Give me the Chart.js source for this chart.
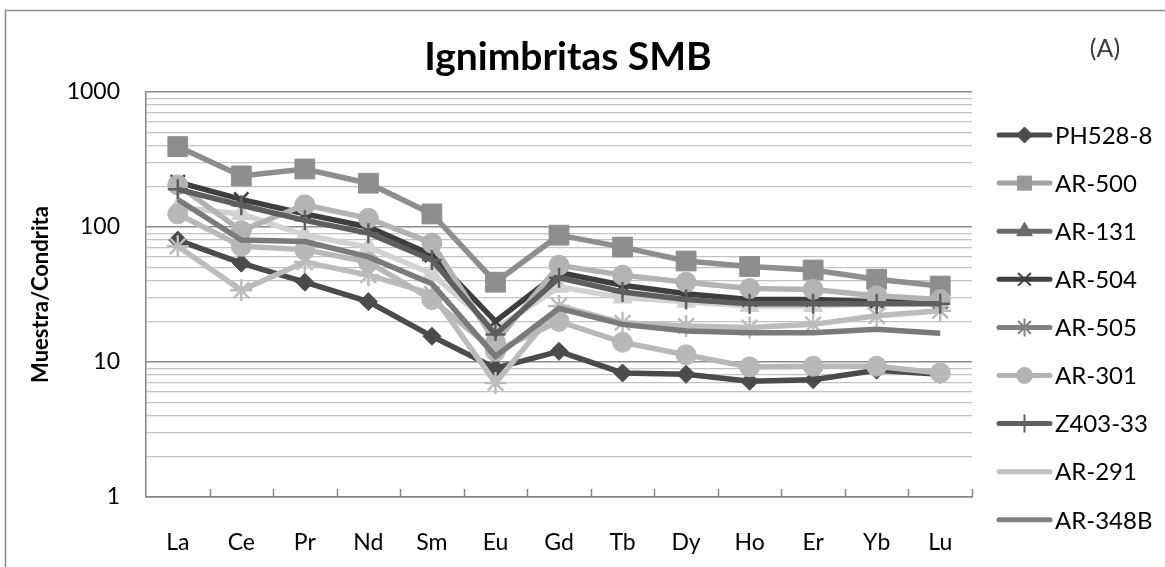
<!DOCTYPE html>
<html>
<head>
<meta charset="utf-8">
<script src="https://cdn.jsdelivr.net/npm/chart.js@4/dist/chart.umd.min.js"></script>
<style>
  html, body { margin: 0; padding: 0; background: #ffffff; }
  #wrap { width: 1165px; height: 567px; }
</style>
</head>
<body>
<div id="wrap"><canvas id="chart" width="1165" height="567"></canvas></div>
<script>
// REE elements (x categories) and log axis labels
var elements = ['La', 'Ce', 'Pr', 'Nd', 'Sm', 'Eu', 'Gd', 'Tb', 'Dy', 'Ho', 'Er', 'Yb', 'Lu'];
var yTickLabels = [1, 10, 100, 1000];

// Chondrite-normalised values per sample
var ph528_8 = [80, 54, 39, 28, 15.5, 9, 12, 8.3, 8.1, 7.2, 7.4, 8.7, 8.1];
var ar500   = [394, 239, 269, 211, 125, 39, 87, 71, 56, 51, 48, 41, 36.5];
var ar131   = [140, 125, 87, 71, 45, 17.5, 36, 30, 28, 26, 26, 27, 28];
var ar504   = [215, 160, 125, 100, 62, 20, 46, 37, 32, 29, 29, 28, 28];
var ar505   = [72, 34, 55, 44, 32, 7, 26, 19.5, 18.5, 18, 19, 22, 24];
var ar301   = [205, 94, 146, 116, 76, 14, 52, 44, 39, 35, 34.5, 31, 29];
var z403_33 = [190, 145, 112, 90, 57, 16, 42, 33, 29, 27, 27, 27, 27];
var ar291   = [125, 72, 68, 55, 29, 12, 20, 14, 11.3, 9.2, 9.3, 9.3, 8.3];
var ar348b  = [160, 80, 78, 60, 38, 11, 25, 19, 17, 16.5, 16.5, 17.5, 16.3];

var FONT = 'Lato, "Open Sans", sans-serif';

// line colour / marker in the plot, and the swatch used in the legend
var series = [
    { label: 'PH528-8', data: ph528_8, color: '#4b4b4b', style: 'rectRot', r: 9,  legColor: '#4b4b4b', legStyle: 'rectRot', legR: 8 },
    { label: 'AR-500',  data: ar500,   color: '#8e8e8e', style: 'rect',    r: 14, legColor: '#a2a2a2', legStyle: 'rect',    legR: 10, legFill: '#999999' },
    { label: 'AR-131',  data: ar131,   color: '#d2d2d2', style: 'triangle', r: 11, legColor: '#6b6b6b', legStyle: 'triangle', legR: 9 },
    { label: 'AR-504',  data: ar504,   color: '#3e3e3e', style: 'crossRot', r: 10, legColor: '#404040', legStyle: 'crossRot', legR: 9 },
    { label: 'AR-505',  data: ar505,   color: '#bcbcbc', style: 'star',    r: 11, legColor: '#808080', legStyle: 'star',    legR: 9 },
    { label: 'AR-301',  data: ar301,   color: '#b3b3b3', style: 'circle',  r: 10, legColor: '#b3b3b3', legStyle: 'circle',  legR: 8 },
    { label: 'Z403-33', data: z403_33, color: '#5e5e5e', style: 'cross',   r: 10, legColor: '#606060', legStyle: 'cross',   legR: 9 },
    { label: 'AR-291',  data: ar291,   color: '#b8b8b8', style: 'circle',  r: 10, legColor: '#c0c0c0', legStyle: false,     legR: 0 },
    { label: 'AR-348B', data: ar348b,  color: '#7a7a7a', style: false,     r: 0,  legColor: '#7f7f7f', legStyle: false,     legR: 0 }
];

var datasets = series.map(function (s, i) {
    var stroked = s.style === 'crossRot' || s.style === 'star' || s.style === 'cross';
    return {
        label: s.label,
        data: s.data,
        borderColor: s.color,
        backgroundColor: s.color,
        borderWidth: 5.5,
        tension: 0,
        pointStyle: s.style,
        pointRadius: s.r,
        pointBorderWidth: stroked ? 2.5 : 1,
        pointHoverRadius: s.r,
        order: -i // later samples painted on top
    };
});

// outer frame, title and "(A)"
var framePlugin = {
    id: 'frame',
    beforeDraw: function (chart) {
        var ctx = chart.ctx;
        ctx.save();
        ctx.fillStyle = '#ffffff';
        ctx.fillRect(0, 0, chart.width, chart.height);
        ctx.strokeStyle = '#8a8a8a';
        ctx.lineWidth = 1.5;
        ctx.beginPath();
        ctx.moveTo(5.5, chart.height + 5);
        ctx.lineTo(5.5, 10.5);
        ctx.lineTo(chart.width + 5, 10.5);
        ctx.stroke();
        ctx.restore();
    },
    afterDraw: function (chart) {
        var ctx = chart.ctx;
        ctx.save();
        ctx.fillStyle = '#000000';
        ctx.textAlign = 'center';
        ctx.textBaseline = 'middle';
        ctx.font = 'bold 39px ' + FONT;
        ctx.fillText('Ignimbritas SMB', 568, 57);
        ctx.fillStyle = '#3a3a3a';
        ctx.font = '25px ' + FONT;
        ctx.fillText('(A)', 1105, 49);
        ctx.restore();
    }
};

// category tick marks pointing up into the plot, between elements
var innerTicksPlugin = {
    id: 'innerTicks',
    beforeDatasetsDraw: function (chart) {
        var x = chart.scales.x, area = chart.chartArea, ctx = chart.ctx;
        var step = (area.right - area.left) / elements.length;
        ctx.save();
        ctx.strokeStyle = '#868686';
        ctx.lineWidth = 1.5;
        ctx.beginPath();
        for (var i = 1; i <= elements.length; i++) {
            var px = Math.round(x.getPixelForValue(i - 1) + step / 2) + 0.5;
            ctx.moveTo(px, area.bottom);
            ctx.lineTo(px, area.bottom - 8);
        }
        ctx.stroke();
        ctx.restore();
    }
};

// legend drawn as Excel-style line + marker swatches
var legendPlugin = {
    id: 'sideLegend',
    afterDraw: function (chart) {
        var ctx = chart.ctx;
        ctx.save();
        series.forEach(function (s, i) {
            var y = 135 + i * 48.1;
            ctx.strokeStyle = s.legColor;
            ctx.lineWidth = 5;
            ctx.lineCap = 'round';
            ctx.beginPath();
            ctx.moveTo(999, y);
            ctx.lineTo(1050, y);
            ctx.stroke();
            if (s.legStyle) {
                var fill = s.legFill || s.legColor;
                ctx.fillStyle = fill;
                ctx.strokeStyle = fill;
                ctx.lineCap = 'butt';
                var stroked = s.legStyle === 'crossRot' || s.legStyle === 'star' || s.legStyle === 'cross';
                ctx.lineWidth = stroked ? 2 : 1;
                Chart.helpers.drawPoint(ctx, { pointStyle: s.legStyle, radius: s.legR, borderWidth: ctx.lineWidth, rotation: 0 }, 1024.5, y);
            }
            ctx.fillStyle = '#000000';
            ctx.font = '24px ' + FONT;
            ctx.textAlign = 'left';
            ctx.textBaseline = 'middle';
            ctx.fillText(s.label, 1055, y + 1);
        });
        ctx.restore();
    }
};

new Chart(document.getElementById('chart'), {
    type: 'line',
    data: { labels: elements, datasets: datasets },
    plugins: [framePlugin, innerTicksPlugin, legendPlugin],
    options: {
        responsive: false,
        animation: false,
        devicePixelRatio: 1,
        layout: { padding: { top: 92, right: 193, bottom: 0, left: 0 } },
        plugins: {
            legend: { display: false },
            title: { display: false },
            tooltip: { enabled: false }
        },
        scales: {
            x: {
                offset: true,
                grid: { display: true, drawOnChartArea: false, drawTicks: false, offset: true },
                border: { color: '#868686', width: 1.5 },
                ticks: { color: '#000000', padding: 32, font: { family: FONT, size: 23 } },
                afterFit: function (scale) { scale.height = 70; }
            },
            y: {
                type: 'logarithmic',
                min: 1,
                max: 1000,
                border: { color: '#868686', width: 1.5 },
                grid: {
                    drawTicks: false,
                    color: function (ctx) {
                        return ctx.tick && yTickLabels.indexOf(ctx.tick.value) >= 0 ? '#8c8c8c' : '#c2c2c2';
                    },
                    lineWidth: function (ctx) {
                        return ctx.tick && yTickLabels.indexOf(ctx.tick.value) >= 0 ? 1.5 : 1.2;
                    }
                },
                afterBuildTicks: function (scale) {
                    var ticks = [];
                    yTickLabels.forEach(function (decade) {
                        for (var m = 1; m < 10; m++) {
                            if (decade * m <= 1000) ticks.push({ value: decade * m });
                        }
                    });
                    scale.ticks = ticks;
                },
                ticks: {
                    autoSkip: false,
                    color: '#000000',
                    padding: 26,
                    font: { family: FONT, size: 23 },
                    callback: function (val) {
                        return yTickLabels.indexOf(val) >= 0 ? String(val) : '';
                    }
                },
                title: {
                    display: true,
                    text: 'Muestra/Condrita',
                    color: '#000000',
                    font: { family: FONT, size: 22, weight: 'bold' },
                    padding: { top: 28, bottom: 0 }
                },
                afterFit: function (scale) { scale.width = 146; }
            }
        }
    }
});
</script>
</body>
</html>
